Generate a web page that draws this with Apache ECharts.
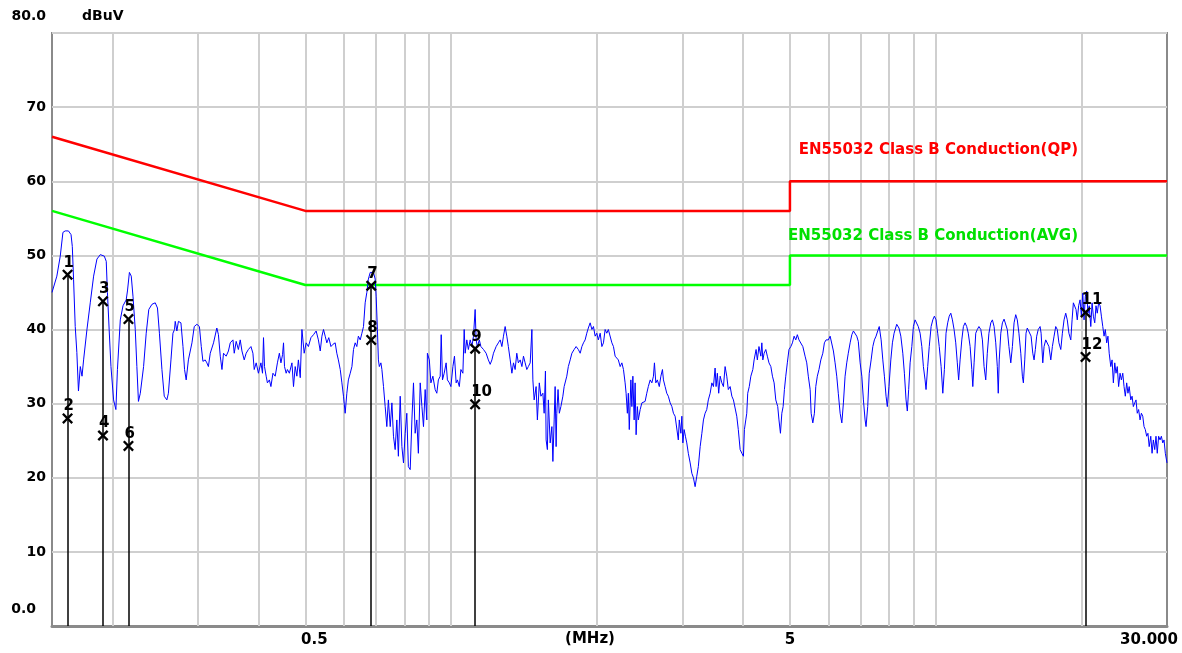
<!DOCTYPE html>
<html>
<head>
<meta charset="utf-8">
<title>EN55032 Class B Conduction</title>
<script src="https://cdn.jsdelivr.net/npm/echarts@6/dist/echarts.min.js"></script>
<style>
  html, body { margin: 0; padding: 0; background: #ffffff; }
  #chart { width: 1182px; height: 653px; }
</style>
</head>
<body>
<div id="chart"></div>
<script>
// Peak-detector sweep: frequency (MHz) and level (dBuV)
const freqMHz = [
  0.1500,0.1535,0.1560,0.1580,0.1597,0.1622,0.1642,0.1652,0.1662,0.1675,
  0.1688,0.1701,0.1716,0.1730,0.1743,0.1771,0.1799,0.1828,0.1857,0.1887,
  0.1923,0.1941,0.1952,0.1968,0.1985,0.2010,0.2032,0.2047,0.2075,0.2102,
  0.2134,0.2147,0.2167,0.2186,0.2204,0.2228,0.2245,0.2262,0.2282,0.2318,
  0.2347,0.2376,0.2412,0.2450,0.2476,0.2499,0.2529,0.2557,0.2589,0.2608,
  0.2640,0.2665,0.2685,0.2694,0.2715,0.2735,0.2768,0.2795,0.2816,0.2838,
  0.2868,0.2917,0.2949,0.2986,0.3022,0.3049,0.3073,0.3106,0.3131,0.3154,
  0.3182,0.3232,0.3283,0.3308,0.3337,0.3364,0.3389,0.3432,0.3469,
  0.3499,0.3544,0.3566,0.3599,0.3637,0.3669,0.3699,0.3739,0.3774,0.3814,
  0.3861,0.3897,0.3921,0.3958,0.4000,0.4048,0.4079,0.4098,0.4118,0.4150,
  0.4175,0.4214,0.4245,0.4286,0.4332,0.4378,0.4419,0.4452,0.4486,0.4507,
  0.4528,0.4564,0.4591,0.4634,0.4691,0.4726,0.4764,0.4802,0.4837,0.4880,
  0.4919,0.4942,0.4972,0.5019,0.5072,0.5134,0.5197,0.5263,0.5319,0.5366,
  0.5409,0.5450,0.5494,0.5537,0.5588,0.5646,0.5699,0.5761,0.5806,0.5849,
  0.5901,0.5948,0.5993,0.6041,0.6089,0.6134,0.6188,0.6238,0.6285,0.6335,
  0.6385,0.6432,0.6489,0.6541,0.6591,0.6643,0.6696,0.6745,0.6805,0.6860,
  0.6911,0.6967,0.6999,0.7041,0.7074,0.7106,0.7159,0.7193,0.7248,0.7306,
  0.7363,0.7418,0.7483,0.7543,0.7600,0.7661,0.7722,0.7779,0.7847,0.7910,
  0.7970,0.8034,0.8097,0.8157,0.8229,0.8295,0.8358,0.8425,0.8491,0.8554,
  0.8629,0.8699,0.8765,0.8835,0.8904,0.8929,0.9011,0.9079,0.9165,0.9264,
  0.9338,0.9407,0.9489,0.9535,0.9593,0.9670,0.9760,0.9819,0.9910,0.9984,
  1.0079,1.0155,1.0235,1.0297,1.0392,1.0470,1.0569,1.0634,1.0684,1.0768,
  1.0848,1.0943,1.1032,1.1115,1.1203,1.1256,1.1323,1.1427,1.1514,1.1656,
  1.1803,1.1929,1.2034,1.2131,1.2223,1.2378,1.2509,1.2619,1.2721,1.2818,
  1.2920,1.3022,1.3118,1.3233,1.3340,1.3441,1.3548,1.3655,1.3756,1.3877,
  1.3990,1.4095,1.4208,1.4320,1.4426,1.4553,1.4670,1.4739,1.4830,1.4968,
  1.5058,1.5197,1.5311,1.5457,1.5551,1.5646,1.5696,1.5791,1.5864,1.6003,
  1.6133,1.6209,1.6308,1.6384,1.6460,1.6513,1.6612,1.6712,1.6838,1.6997,
  1.7101,1.7317,1.7445,1.7598,1.7741,1.7933,1.8101,1.8294,1.8455,1.8604,
  1.8745,1.8894,1.9043,1.9184,1.9353,1.9509,1.9657,1.9813,1.9970,2.0117,
  2.0294,2.0458,2.0613,2.0777,2.0941,2.1096,
  2.1282,2.1454,2.1616,2.1788,2.1960,2.2122,2.2317,2.2498,2.2668,2.2848,
  2.2954,2.3093,2.3199,2.3305,2.3481,2.3592,2.3704,2.3849,2.3960,2.4071,
  2.4216,2.4328,2.4542,2.4740,2.4927,2.5126,2.5324,2.5511,2.5736,2.5944,
  2.6140,2.6263,2.6434,2.6630,2.6875,2.7078,2.7284,2.7412,2.7630,2.7849,
  2.8054,2.8301,2.8530,2.8746,2.8975,2.9204,2.9419,2.9554,2.9777,2.9918,
  3.0060,3.0243,3.0427,3.0625,3.0851,3.1122,3.1374,3.1611,3.1863,3.2115,
  3.2352,3.2637,3.2901,3.3149,3.3413,3.3677,3.3926,3.4225,3.4501,3.4762,
  3.5039,3.5202,3.5414,3.5642,3.5890,3.6180,3.6453,3.6744,3.7034,3.7308,
  3.7636,3.7940,3.8227,3.8532,3.8836,3.9123,3.9467,3.9786,4.0087,4.0275,
  4.0538,4.0726,4.0914,4.1214,4.1525,4.1919,4.2176,4.2570,4.2826,4.3161,
  4.3546,4.3752,4.3959,4.4228,4.4579,4.4910,4.5261,4.5665,4.6011,4.6380,
  4.6748,4.7181,4.7463,4.7796,4.8114,4.8409,4.8705,4.9022,4.9386,4.9772,
  5.0216,5.0598,5.1003,5.1408,5.1789,5.2194,
  5.2485,5.3160,5.3734,5.4159,5.4559,5.5039,5.5301,5.5746,5.6166,5.6532,
  5.6951,5.7397,5.7909,5.8459,5.8898,5.9365,5.9997,6.0525,6.1015,6.1476,
  6.1966,6.2455,6.2917,6.3470,6.3983,6.4467,6.4981,6.5494,6.5978,6.6558,
  6.7097,6.7604,6.8142,6.8681,6.9188,6.9797,7.0361,7.0893,7.1458,7.1790,
  7.2355,7.2886,7.3541,7.4133,7.4691,7.5283,7.5875,7.6433,7.7119,7.7740,
  7.8325,7.8946,7.9421,8.0042,8.0756,8.1370,8.2021,8.3055,8.3937,8.4686,
  8.5489,8.6132,8.6815,8.7338,8.7900,8.8512,8.9228,8.9902,9.0618,9.1334,
  9.2009,9.2818,9.3569,9.4276,9.5027,9.5469,9.6220,9.6927,9.7798,9.8585,
  9.9327,10.011,10.090,10.164,10.256,10.338,10.416,10.498,10.581,10.659,
  10.739,10.821,10.907,10.994,11.076,11.147,11.224,11.315,11.401,11.492,
  11.582,11.668,11.771,11.866,11.922,11.995,12.090,12.180,12.275,12.384,
  12.478,12.578,12.678,12.772,12.872,12.987,13.086,13.190,13.295,13.394,
  13.455,13.517,
  13.619,13.722,13.832,13.942,14.045,14.155,14.281,14.390,14.505,14.620,
  14.729,14.844,14.976,15.090,15.161,15.261,15.353,15.445,15.587,15.727,
  15.854,15.951,16.048,16.152,16.271,16.415,16.493,16.625,16.727,16.860,
  16.985,17.118,17.270,17.402,17.541,17.680,17.811,17.951,18.111,18.248,
  18.394,18.540,18.678,18.824,18.992,19.109,19.226,19.352,19.470,19.587,
  19.713,19.850,19.973,20.105,20.228,20.351,20.483,20.606,20.729,20.885,
  21.014,21.143,21.281,21.410,21.539,21.678,21.829,21.964,22.109,22.244,
  22.379,22.525,22.660,22.795,22.967,23.109,23.250,23.403,23.544,23.686,
  23.839,24.004,24.153,24.313,24.461,24.610,24.770,24.918,25.067,25.256,
  25.412,25.568,25.735,25.891,26.047,26.215,26.397,26.561,26.736,26.900,
  27.063,27.239,27.402,27.566,27.774,27.945,28.116,28.301,28.472,28.643,
  28.828,29.028,29.208,29.401,29.581,29.761,30.000
];
const levelDbuv = [
  45.0,47.2,49.9,53.1,53.3,53.3,52.8,51.2,46.7,40.4,
  36.9,31.7,35.0,33.7,35.9,40.0,43.6,47.2,49.5,50.1,
  49.9,49.2,45.0,40.0,35.0,30.5,29.2,34.6,41.3,43.2,
  44.0,45.2,47.7,47.2,44.5,40.0,35.0,30.3,31.4,35.0,
  39.5,42.7,43.4,43.6,42.9,39.5,34.6,31.0,30.5,31.4,
  35.9,39.5,40.0,41.1,39.8,41.1,40.9,37.7,34.6,33.2,
  35.9,38.2,40.4,40.7,40.4,37.7,35.7,35.9,35.5,35.0,
  36.8,38.2,40.2,39.3,36.4,34.6,36.8,36.4,37.1,
  38.2,38.6,36.8,38.4,37.3,38.6,37.1,35.9,36.8,37.3,
  37.7,36.8,34.6,35.5,34.1,35.5,34.1,38.9,35.0,33.7,
  32.8,33.2,32.3,34.1,33.7,35.5,36.8,35.5,36.6,38.2,
  35.0,34.1,34.6,34.1,35.5,32.3,35.0,33.7,35.9,33.5,
  40.0,40.2,36.8,38.2,37.7,38.9,39.3,39.8,38.6,37.1,
  39.1,40.0,39.1,38.2,38.9,37.7,38.0,38.2,36.8,35.9,
  34.6,32.8,31.0,28.7,31.4,33.2,34.1,35.0,37.3,38.2,
  37.7,39.1,38.6,39.5,40.4,43.6,45.0,46.8,47.7,47.9,
  47.7,46.8,44.5,40.0,35.9,35.0,35.5,34.6,32.3,29.6,
  26.9,30.5,26.9,30.1,25.6,23.8,27.8,22.9,31.0,24.2,
  22.0,26.0,28.7,21.5,21.1,27.8,32.8,26.0,27.8,23.3,
  32.8,29.6,26.9,31.9,27.8,36.8,35.9,32.8,33.7,31.9,
  31.4,33.2,33.7,39.3,33.2,34.1,35.5,33.2,32.8,32.3,
  35.0,36.4,32.8,33.2,32.3,34.6,34.1,40.0,36.8,38.6,
  37.3,38.6,37.7,39.1,42.7,38.6,37.7,38.6,37.7,37.3,
  36.8,35.9,35.3,35.9,36.8,37.7,38.2,38.6,37.7,39.1,
  40.4,39.1,37.7,35.9,34.1,35.5,34.6,36.8,35.5,35.9,
  35.0,36.4,35.5,34.6,35.0,35.5,40.0,33.2,30.5,32.3,
  27.8,32.8,31.0,31.4,28.7,34.4,25.1,23.8,30.5,24.7,
  26.9,22.2,27.8,32.3,24.2,28.7,31.9,28.7,29.6,31.0,
  32.3,33.7,35.0,35.9,36.8,37.3,37.7,37.3,36.8,37.7,
  38.2,38.6,39.5,40.2,40.9,40.0,40.4,39.1,39.5,38.6,
  39.5,37.7,38.2,40.0,39.5,40.0,
  40.0,38.2,37.7,36.4,36.4,35.9,35.0,35.5,34.6,32.8,
  31.4,28.7,31.4,26.5,33.2,29.6,33.7,27.8,32.8,25.8,
  29.6,27.8,29.2,30.1,30.3,30.3,31.4,32.3,33.2,32.8,
  33.7,35.5,32.8,33.2,32.3,33.7,34.6,33.2,32.3,31.4,
  31.0,30.1,29.6,28.7,28.3,28.3,25.1,27.8,26.0,28.3,
  24.7,26.5,25.6,24.7,23.3,22.0,20.6,20.0,18.8,20.2,
  21.5,24.2,26.0,27.8,28.7,29.2,30.5,31.4,32.8,32.3,
  34.8,32.3,34.1,31.4,33.7,32.8,32.3,35.0,33.7,31.9,
  32.3,31.0,30.5,30.5,28.3,26.5,23.8,23.3,22.9,26.5,
  27.8,28.7,31.4,32.3,33.7,34.6,35.9,37.3,35.9,37.7,
  36.4,38.2,35.9,36.8,37.3,36.4,35.5,35.0,33.7,32.8,
  30.5,29.6,27.8,26.0,28.7,29.6,31.9,33.7,35.5,37.3,
  37.7,38.2,39.1,38.6,39.3,38.6,
  38.4,37.7,36.4,35.5,33.7,31.9,28.7,27.4,28.7,32.3,
  33.7,34.6,35.9,36.8,38.2,38.6,38.6,39.1,39.3,37.1,
  35.5,33.7,31.4,28.7,27.4,30.1,33.7,35.5,36.8,38.2,
  39.3,39.8,40.0,39.1,38.4,35.5,33.7,30.5,27.8,26.9,
  29.6,34.1,35.9,37.7,38.6,39.1,39.8,40.4,38.6,35.9,
  33.7,31.0,29.6,32.3,35.9,38.2,39.5,40.7,40.2,39.1,
  36.8,34.1,30.5,29.0,31.9,35.5,37.7,40.4,41.3,41.3,
  40.4,39.5,37.7,35.0,33.2,31.9,35.0,37.7,40.4,41.3,
  41.8,41.3,39.5,37.7,35.0,31.4,34.6,39.5,40.9,41.8,
  42.2,41.3,40.0,38.2,35.5,33.2,35.9,38.6,40.4,40.9,
  40.4,39.5,37.7,34.6,32.3,35.5,39.5,40.0,40.4,40.0,
  38.6,35.0,33.2,36.8,39.5,40.9,41.3,40.4,38.2,35.0,
  31.4,35.9,
  39.5,40.9,41.4,41.6,40.0,37.7,35.5,37.7,40.9,42.0,
  41.3,39.5,36.8,33.7,32.8,35.9,39.5,40.2,40.4,39.1,
  36.8,35.9,37.3,39.1,40.0,40.4,39.5,35.5,37.7,38.6,
  38.6,37.7,35.9,37.7,39.1,40.4,40.0,38.2,37.3,39.5,
  41.3,42.2,41.3,39.5,38.6,41.3,43.6,43.6,42.7,41.3,
  43.2,44.0,41.8,44.9,41.3,44.5,45.2,42.2,43.2,40.4,
  43.6,41.8,40.9,43.2,42.2,43.6,43.2,41.8,40.4,39.1,
  40.0,38.2,39.1,36.8,35.0,35.9,32.8,35.5,34.1,35.0,
  32.3,34.1,33.2,34.1,32.3,31.0,32.8,31.4,32.3,30.5,
  31.0,29.6,30.1,30.5,28.7,29.2,27.8,28.7,28.3,26.9,
  26.5,25.6,26.0,24.2,25.6,23.3,25.1,23.8,25.6,23.3,
  25.6,25.1,25.6,24.7,25.1,23.3,22.0
];

// EN55032 Class B conducted limits
const qpLimitFreq = [0.15, 0.5, 5, 5, 30];
const qpLimitLevel = [66, 56, 56, 60, 60];
const avgLimitFreq = [0.15, 0.5, 5, 5, 30];
const avgLimitLevel = [56, 46, 46, 50, 50];
const qpLimitName = 'EN55032 Class B Conduction(QP)';
const avgLimitName = 'EN55032 Class B Conduction(AVG)';

// Marker table (odd = QP reading, even = AVG reading)
const markerIds = ['1','2','3','4','5','6','7','8','9','10','11','12'];
const markerFreq = [0.1615,0.1615,0.1911,0.1911,0.2157,0.2157,0.6837,0.6837,1.1203,1.1203,20.370,20.370];
const markerLevel = [47.4,28.0,43.8,25.7,41.4,24.3,45.9,38.6,37.4,29.9,42.3,36.3];

// Axis ticks and grid
const xTickValues = [0.5, 5, 30];
const xTickLabels = ['0.5', '5', '30.000'];
const xUnitLabel = '(MHz)';
const yTickValues = [0, 10, 20, 30, 40, 50, 60, 70, 80];
const yTickLabels = ['0.0', '10', '20', '30', '40', '50', '60', '70', '80.0'];
const yUnitLabel = 'dBuV';
const xGridFreqs = [0.2,0.3,0.4,0.5,0.6,0.7,0.8,0.9,1,2,3,4,5,6,7,8,9,10,20];

const FONT = 'DejaVu Sans';
const GRID_COLOR = '#cfcfcf';
const FRAME_COLOR = '#8a8a8a';

const zip = (xs, ys) => xs.map((x, i) => [x, ys[i]]);
const boldText = (size) => ({ fontFamily: FONT, fontWeight: 'bold', fontSize: size, color: '#000' });

// horizontal nudges of the frequency tick labels
const xLabelNudge = [9, 0, -18];

const chart = echarts.init(document.getElementById('chart'), null, { renderer: 'canvas' });

const option = {
  animation: false,
  backgroundColor: '#ffffff',
  grid: {
    left: 52, right: 15, top: 33, bottom: 27,
    show: true, borderColor: FRAME_COLOR, borderWidth: 2, backgroundColor: 'transparent'
  },
  xAxis: {
    type: 'log', logBase: 10, min: 0.15, max: 30,
    axisLine: { show: true, lineStyle: { color: FRAME_COLOR, width: 3 } },
    axisTick: { show: false },
    axisLabel: { show: false },
    splitLine: { show: false },
    name: xUnitLabel, nameLocation: 'middle', nameGap: 6,
    nameTextStyle: Object.assign(boldText(15), { verticalAlign: 'top', padding: [0, 39, 0, 0] })
  },
  yAxis: {
    type: 'value', min: 0, max: 80, interval: 10,
    axisLine: { show: false },
    axisTick: { show: false },
    splitLine: { show: true, lineStyle: { color: GRID_COLOR, width: 2 } },
    axisLabel: Object.assign(boldText(14), {
      margin: 6,
      formatter: (v) => {
        const t = yTickLabels[yTickValues.indexOf(v)];
        if (v === yTickValues[0]) return '{lo|' + t + '}';
        if (v === yTickValues[yTickValues.length - 1]) return '{hi|' + t + '}';
        return t;
      },
      rich: {
        lo: Object.assign(boldText(14), { padding: [0, 10, 34, 0] }),
        hi: Object.assign(boldText(14), { padding: [0, 0, 34, 0] })
      }
    }),
    name: yUnitLabel, nameLocation: 'end', nameGap: 17,
    nameTextStyle: Object.assign(boldText(14), { align: 'left', verticalAlign: 'middle', padding: [0, 0, 0, 30] })
  },
  series: [
    {
      name: avgLimitName, type: 'line', z: 2,
      data: zip(avgLimitFreq, avgLimitLevel),
      symbol: 'none', lineStyle: { color: '#00ff00', width: 2.5 },
      silent: true
    },
    {
      name: qpLimitName, type: 'line', z: 2,
      data: zip(qpLimitFreq, qpLimitLevel),
      symbol: 'none', lineStyle: { color: '#ff0000', width: 2.5 },
      silent: true,
      // decade sub-divisions of the frequency axis
      markLine: {
        silent: true, z: 1, animation: false,
        symbol: ['none', 'none'],
        label: { show: false },
        lineStyle: { color: GRID_COLOR, width: 2, type: 'solid' },
        emphasis: { disabled: true },
        data: xGridFreqs.map(f => ({ xAxis: f }))
      }
    },
    {
      name: 'Peak', type: 'line', z: 3,
      data: zip(freqMHz, levelDbuv),
      symbol: 'none', lineStyle: { color: '#0000ff', width: 1 },
      silent: true
    },
    {
      name: 'Markers', type: 'scatter', z: 6,
      data: zip(markerFreq, markerLevel),
      symbol: 'path://M0,1.5L1.5,0L5,3.5L8.5,0L10,1.5L6.5,5L10,8.5L8.5,10L5,6.5L1.5,10L0,8.5L3.5,5Z',
      symbolSize: 11,
      itemStyle: { color: '#000', opacity: 1 },
      silent: true,
      label: Object.assign(boldText(15), {
        show: true, position: 'top', distance: 0, align: 'left', offset: [-4, 1], opacity: 1,
        formatter: (p) => markerIds[p.dataIndex]
      }),
      markLine: {
        silent: true, z: 5, animation: false,
        symbol: ['none', 'none'],
        label: { show: false },
        lineStyle: { color: '#000', width: 1.5, type: 'solid', opacity: 1 },
        emphasis: { disabled: true },
        data: markerFreq
          .map((f, i) => ({ f, lvl: markerLevel[i], i }))
          .filter(m => m.i % 2 === 0)
          .map(m => [{ coord: [m.f, 0] }, { coord: [m.f, m.lvl] }])
      }
    },
    {
      name: 'FreqTicks', type: 'scatter', z: 6, clip: false, silent: true,
      data: xTickValues.map((v, i) => ({
        value: [v, 0],
        label: { offset: [xLabelNudge[i], 0] }
      })),
      symbolSize: 1,
      itemStyle: { color: 'rgba(0,0,0,0)' },
      label: Object.assign(boldText(15), {
        show: true, position: 'bottom', distance: 6, opacity: 1,
        formatter: (p) => xTickLabels[p.dataIndex]
      })
    }
  ],
  graphic: [
    {
      type: 'text', x: 1078, y: 150, silent: true, z: 10,
      style: { text: qpLimitName, fill: '#ff0000', font: 'bold 15px "DejaVu Sans"', align: 'right', verticalAlign: 'middle' }
    },
    {
      type: 'text', x: 1078, y: 236, silent: true, z: 10,
      style: { text: avgLimitName, fill: '#00e000', font: 'bold 15px "DejaVu Sans"', align: 'right', verticalAlign: 'middle' }
    }
  ]
};

chart.setOption(option);
</script>
</body>
</html>
